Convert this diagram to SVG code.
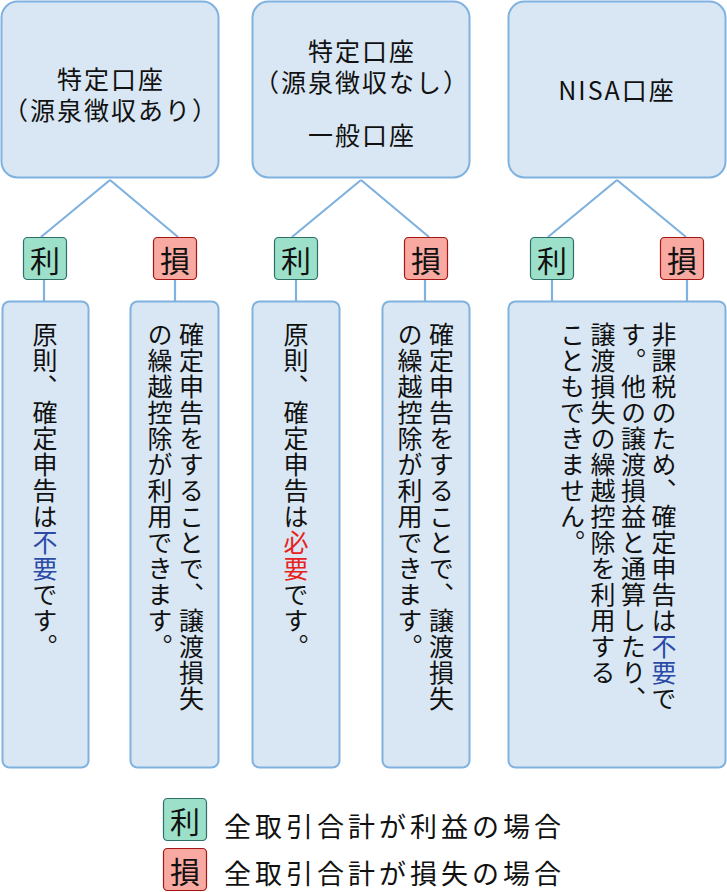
<svg xmlns="http://www.w3.org/2000/svg" width="727" height="892" viewBox="0 0 727 892">
<style>
text{font-family:"Noto Sans CJK JP","Noto Sans",sans-serif;fill:#111;}
.box{fill:#d9e7f4;stroke:#80b2e0;stroke-width:2;}
.edge{stroke:#80b2e0;stroke-width:2.2;fill:none;}
.gain{fill:#9ce0c9;stroke:#2f6f69;stroke-width:1.2;}
.loss{fill:#f8a9a1;stroke:#a51511;stroke-width:1.2;}
.h{font-size:25px;letter-spacing:2px;text-anchor:middle;}
.b{font-size:30px;text-anchor:middle;}
.v{font-size:25px;letter-spacing:1px;writing-mode:vertical-rl;}
.lg{font-size:27px;letter-spacing:4px;}
.blue{fill:#2b4ba7;}
.red{fill:#e8221c;}
</style>
<g id="connectors">
<path class="edge" d="M110,180 L41,237 M110,180 L178,237 M44,280 L44,301 M175,280 L175,301"/>
<path class="edge" d="M361,180 L292,237 M361,180 L429,237 M296,280 L296,301 M425,280 L425,301"/>
<path class="edge" d="M617,180 L548,237 M617,180 L686,237 M552,280 L552,301 M687,280 L687,301"/>
</g>
<g id="acct1">
<rect class="box" x="1.5" y="1.5" width="217" height="176" rx="16"/>
<text class="h" x="111" y="89">特定口座</text>
<text class="h" x="111" y="120">（源泉徴収あり）</text>
</g>
<g id="acct2">
<rect class="box" x="252.5" y="1.5" width="217" height="176" rx="16"/>
<text class="h" x="362" y="61">特定口座</text>
<text class="h" x="362" y="92">（源泉徴収なし）</text>
<text class="h" x="362" y="145">一般口座</text>
</g>
<g id="acct3">
<rect class="box" x="508.5" y="1.5" width="217" height="176" rx="16"/>
<text class="h" x="617" y="100">NISA口座</text>
</g>
<g id="badge1g">
<rect class="gain" x="23.5" y="237.5" width="43" height="42" rx="4"/>
<text class="b" x="45" y="272">利</text>
</g>
<g id="badge1l">
<rect class="loss" x="153.5" y="237.5" width="43" height="42" rx="4"/>
<text class="b" x="175" y="272">損</text>
</g>
<g id="badge2g">
<rect class="gain" x="274.5" y="237.5" width="43" height="42" rx="4"/>
<text class="b" x="296" y="272">利</text>
</g>
<g id="badge2l">
<rect class="loss" x="404.5" y="237.5" width="43" height="42" rx="4"/>
<text class="b" x="426" y="272">損</text>
</g>
<g id="badge3g">
<rect class="gain" x="530.5" y="237.5" width="43" height="42" rx="4"/>
<text class="b" x="552" y="272">利</text>
</g>
<g id="badge3l">
<rect class="loss" x="660.5" y="237.5" width="43" height="42" rx="4"/>
<text class="b" x="682" y="272">損</text>
</g>
<g id="note1g">
<rect class="box" x="2.5" y="301.5" width="86" height="466" rx="7"/>
<text class="v" x="45" y="322">原則、確定申告は<tspan class="blue">不要</tspan>です。</text>
</g>
<g id="note1l">
<rect class="box" x="130.5" y="301.5" width="88" height="466" rx="7"/>
<text class="v" x="191.5" y="322">確定申告をすることで、譲渡損失</text>
<text class="v" x="160" y="322">の繰越控除が利用できます。</text>
</g>
<g id="note2g">
<rect class="box" x="252.5" y="301.5" width="87" height="466" rx="7"/>
<text class="v" x="296" y="322">原則、確定申告は<tspan class="red">必要</tspan>です。</text>
</g>
<g id="note2l">
<rect class="box" x="382.5" y="301.5" width="87" height="466" rx="7"/>
<text class="v" x="441.5" y="322">確定申告をすることで、譲渡損失</text>
<text class="v" x="410" y="322">の繰越控除が利用できます。</text>
</g>
<g id="note3">
<rect class="box" x="508.5" y="301.5" width="217" height="466" rx="7"/>
<text class="v" x="664" y="322">非課税のため、確定申告は<tspan class="blue">不要</tspan>で</text>
<text class="v" x="633.5" y="322">す。他の譲渡損益と通算したり、</text>
<text class="v" x="603" y="322">譲渡損失の繰越控除を利用する</text>
<text class="v" x="572.5" y="322">こともできません。</text>
</g>
<g id="legend">
<rect class="gain" x="163.5" y="798.5" width="43" height="42" rx="4"/>
<text class="b" x="185" y="833">利</text>
<text class="lg" x="224" y="837">全取引合計が利益の場合</text>
<rect class="loss" x="163.5" y="848.5" width="43" height="42" rx="4"/>
<text class="b" x="185" y="883">損</text>
<text class="lg" x="224" y="884">全取引合計が損失の場合</text>
</g>
</svg>
